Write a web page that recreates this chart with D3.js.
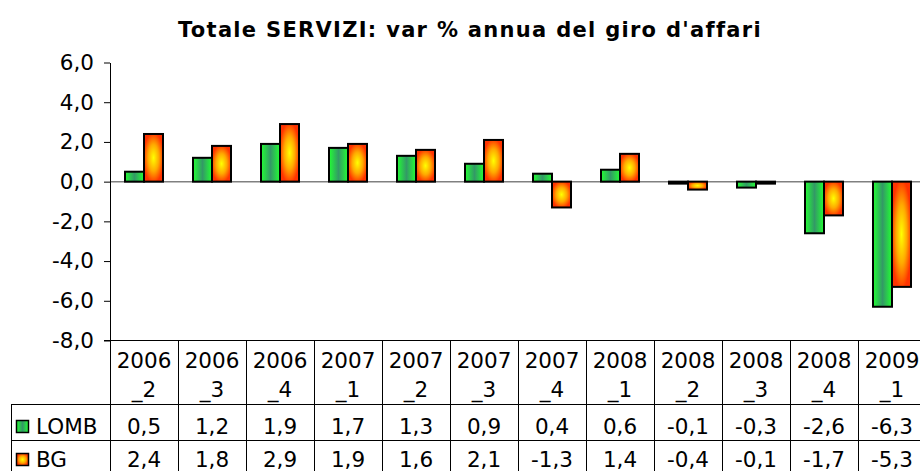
<!DOCTYPE html>
<html>
<head>
<meta charset="utf-8">
<script src="https://cdn.jsdelivr.net/npm/d3@7"></script>
<style>
  body { margin: 0; background: #fff; }
  text { font-family: Verdana, "DejaVu Sans", sans-serif; fill: #000; }
</style>
</head>
<body>
<div id="chart"></div>
<script>
// data
var categories = ["2006_2", "2006_3", "2006_4", "2007_1", "2007_2", "2007_3",
                  "2007_4", "2008_1", "2008_2", "2008_3", "2008_4", "2009_1"];
var seriesNames = ["LOMB", "BG"];
var lomb = [0.5, 1.2, 1.9, 1.7, 1.3, 0.9, 0.4, 0.6, -0.1, -0.3, -2.6, -6.3];
var bg   = [2.4, 1.8, 2.9, 1.9, 1.6, 2.1, -1.3, 1.4, -0.4, -0.1, -1.7, -5.3];
var yTicks = [6, 4, 2, 0, -2, -4, -6, -8];

var W = 920, H = 471;
var plotLeft = 110, plotTop = 62.5, plotBottom = 340.5;
var colW = 68;
var fs = "21.5px";

var it = d3.formatLocale({decimal: ",", thousands: ".", grouping: [3], currency: ["", "€"], minus: "-"});
var fmt = it.format(".1f");

var svg = d3.select("#chart").append("svg")
  .attr("width", W).attr("height", H);

var defs = svg.append("defs");
// green: bright edges, darker centre (horizontal)
var gGreen = defs.append("linearGradient").attr("id", "gGreen")
  .attr("x1", 0).attr("x2", 1).attr("y1", 0).attr("y2", 0);
gGreen.append("stop").attr("offset", "0%").attr("stop-color", "#22ff33");
gGreen.append("stop").attr("offset", "50%").attr("stop-color", "#339966");
gGreen.append("stop").attr("offset", "100%").attr("stop-color", "#22ff33");
// orange: yellow centre, red edges
var gOrange = defs.append("radialGradient").attr("id", "gOrange")
  .attr("cx", 0.5).attr("cy", 0.5).attr("r", 0.62);
gOrange.append("stop").attr("offset", "0%").attr("stop-color", "#ffff00");
gOrange.append("stop").attr("offset", "45%").attr("stop-color", "#ffaa00");
gOrange.append("stop").attr("offset", "85%").attr("stop-color", "#ff3300");
gOrange.append("stop").attr("offset", "100%").attr("stop-color", "#ff3300");

var fills = {LOMB: "url(#gGreen)", BG: "url(#gOrange)"};

// title
svg.append("text")
  .attr("x", 470).attr("y", 37)
  .attr("text-anchor", "middle")
  .style("font-weight", "bold")
  .style("font-size", "21px")
  .style("letter-spacing", "1.3px")
  .text("Totale SERVIZI: var % annua del giro d'affari");

var x = d3.scaleBand()
  .domain(categories)
  .range([plotLeft, plotLeft + colW * categories.length])
  .padding(0);

var x1 = d3.scaleBand()
  .domain(seriesNames)
  .range([x.bandwidth() / 2 - 19, x.bandwidth() / 2 + 19]);

var y = d3.scaleLinear()
  .domain([-8, 6])
  .range([plotBottom, plotTop]);

// zero line
svg.append("line")
  .attr("x1", plotLeft).attr("x2", W)
  .attr("y1", y(0)).attr("y2", y(0))
  .attr("stroke", "#808080").attr("stroke-width", 1.5);

// y axis
var yAxis = svg.append("g")
  .attr("transform", "translate(" + plotLeft + ",0)")
  .call(d3.axisLeft(y).tickValues(yTicks).tickFormat(fmt)
    .tickSize(6).tickSizeOuter(0).tickPadding(10));
yAxis.selectAll("text").style("font-size", fs)
  .style("font-family", "Verdana, 'DejaVu Sans', sans-serif");
yAxis.selectAll("path, line").attr("stroke", "#000");

// bars
var rows = categories.map(function(c, i) {
  return {cat: c, vals: [{s: "LOMB", v: lomb[i]}, {s: "BG", v: bg[i]}]};
});

var groups = svg.selectAll(".grp")
  .data(rows).enter().append("g")
  .attr("transform", function(d) { return "translate(" + x(d.cat) + ",0)"; });

groups.selectAll("rect")
  .data(function(d) { return d.vals; })
  .enter().append("rect")
  .attr("x", function(d) { return x1(d.s); })
  .attr("width", x1.bandwidth())
  .attr("y", function(d) { return y(Math.max(0, d.v)); })
  .attr("height", function(d) { return Math.abs(y(d.v) - y(0)); })
  .attr("fill", function(d) { return fills[d.s]; })
  .attr("stroke", "#000")
  .attr("stroke-width", 2);

// data table
var tTop = plotBottom, hdrBottom = 404.5, row1Bottom = 440.5, row2Bottom = 476.5;
var tRight = plotLeft + colW * categories.length;
var tbl = svg.append("g").attr("stroke", "#000").attr("stroke-width", 1);

// horizontal lines
tbl.append("line").attr("x1", plotLeft - 6).attr("x2", tRight).attr("y1", tTop).attr("y2", tTop);
[hdrBottom, row1Bottom, row2Bottom].forEach(function(yy) {
  tbl.append("line").attr("x1", 11).attr("x2", tRight).attr("y1", yy).attr("y2", yy);
});
// vertical lines
tbl.append("line").attr("x1", 11.5).attr("x2", 11.5).attr("y1", hdrBottom).attr("y2", row2Bottom);
categories.forEach(function(c) {
  var xx = Math.round(x(c)) + 0.5;
  tbl.append("line").attr("x1", xx).attr("x2", xx).attr("y1", tTop).attr("y2", row2Bottom);
});
tbl.append("line").attr("x1", tRight).attr("x2", tRight).attr("y1", tTop).attr("y2", row2Bottom);

// header labels
var hdr = svg.append("g").style("font-size", fs);
categories.forEach(function(c) {
  var parts = c.split("_");
  var cx = x(c) + x.bandwidth() / 2;
  hdr.append("text").attr("x", cx).attr("y", 368).attr("text-anchor", "middle").text(parts[0]);
  hdr.append("text").attr("x", cx).attr("y", 396.5).attr("text-anchor", "middle").text("_" + parts[1]);
});

// value rows
var seriesRows = [{name: "LOMB", vals: lomb, base: 433.5}, {name: "BG", vals: bg, base: 466.5}];
seriesRows.forEach(function(r) {
  var g = svg.append("g").style("font-size", fs);
  g.append("rect")
    .attr("x", 16.5).attr("y", r.base - 13)
    .attr("width", 12).attr("height", 12)
    .attr("fill", fills[r.name])
    .attr("stroke", "#000").attr("stroke-width", 1.5);
  g.append("text").attr("x", 36).attr("y", r.base).text(r.name);
  r.vals.forEach(function(v, i) {
    g.append("text")
      .attr("x", x(categories[i]) + x.bandwidth() / 2)
      .attr("y", r.base)
      .attr("text-anchor", "middle")
      .text(fmt(v));
  });
});
</script>
</body>
</html>
